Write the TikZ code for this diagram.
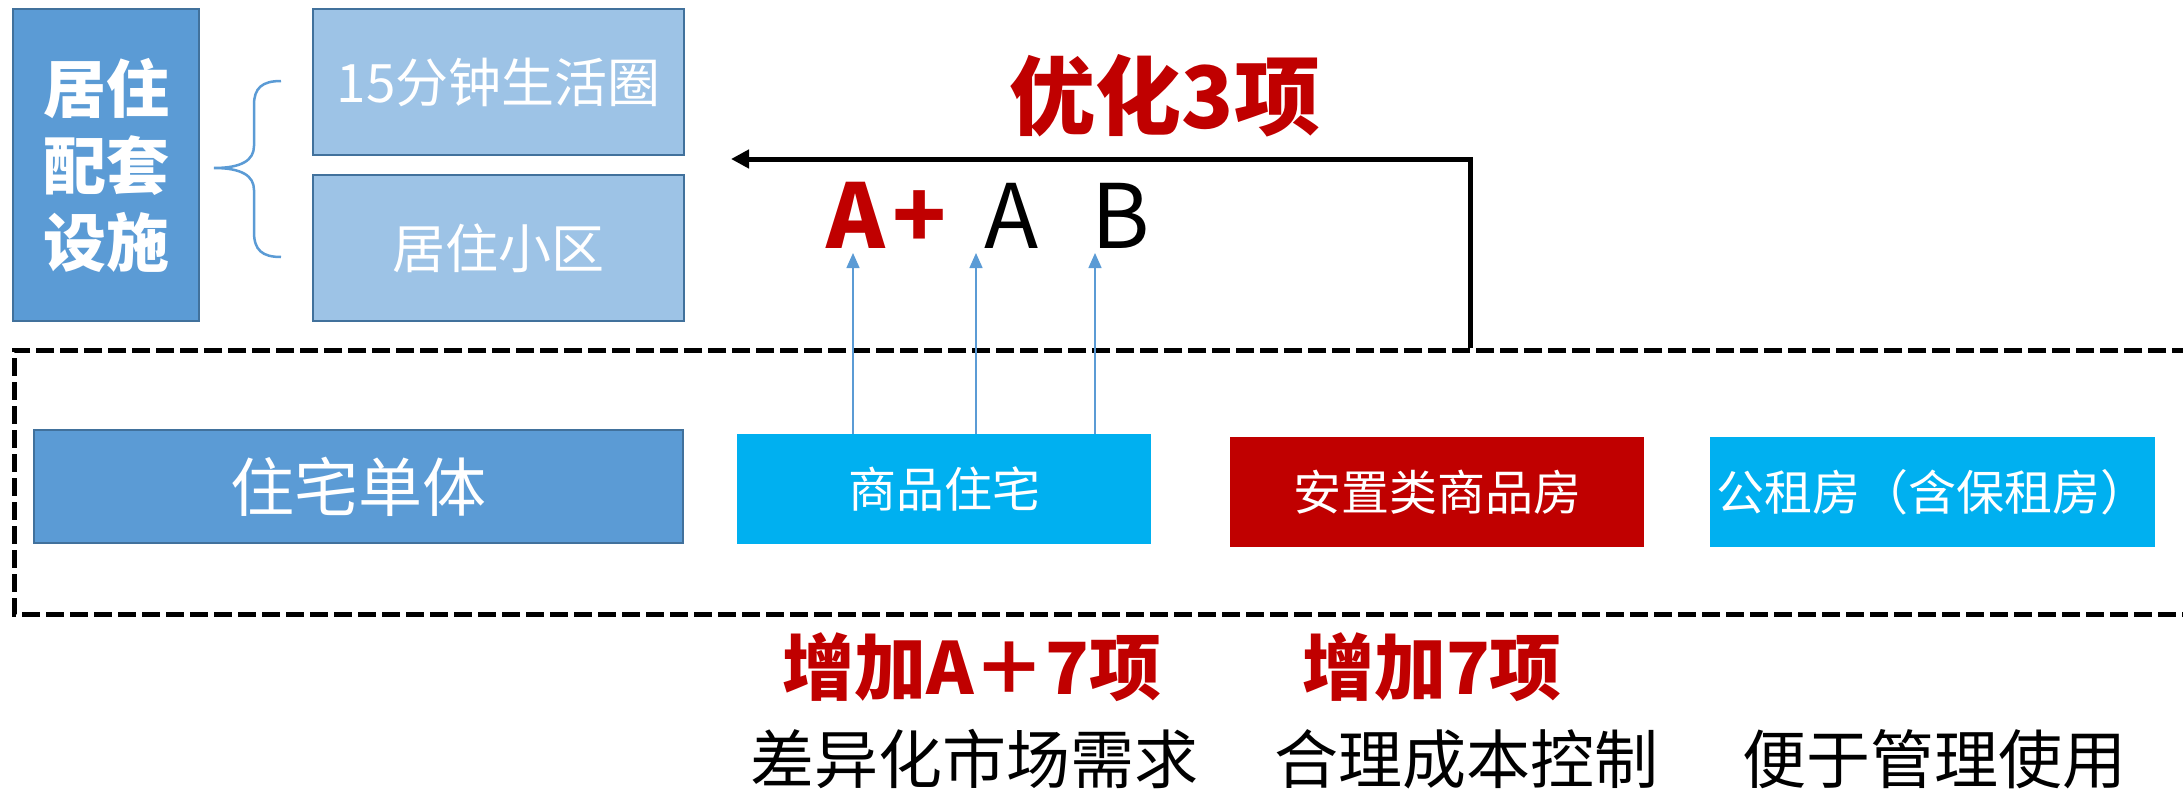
\documentclass[tikz,border=0pt]{standalone}
\usepackage{fontspec}
\setmainfont{Noto Sans CJK SC}
\usetikzlibrary{arrows.meta}
\definecolor{cred}{HTML}{C00000}
\definecolor{ccyan}{HTML}{00B0F0}
\definecolor{cmid}{HTML}{5B9BD5}
\definecolor{clight}{HTML}{9DC3E6}
\definecolor{cborder}{HTML}{41719C}
\newcommand\fsz[2]{\fontsize{#1pt}{#2pt}\selectfont}
\begin{document}
\begin{tikzpicture}[x=1pt,y=-1pt,
  box/.style={draw=cborder, line width=2pt, inner sep=0pt, text=white},
  flat/.style={inner sep=0pt, text=white},
  lbl/.style={inner sep=0pt},
  barrow/.style={draw=cmid, line width=1.5pt, -{Triangle[length=15pt,width=13pt]}},
  karrow/.style={draw=black, line width=5pt, -{Triangle[length=18pt,width=18pt]}},
  dbox/.style={draw=black, line width=5pt, dash pattern=on 18pt off 6pt},
  brace/.style={draw=cmid, line width=2.5pt}
]
\useasboundingbox (0,0) rectangle (2183,792);

% top-left group
\node[box, fill=cmid, minimum width=186pt, minimum height=312pt] (L) at (106,165) {};
\node[lbl, text=white, align=center, font=\bfseries\fsz{63}{77}] (Ltxt) at (L.center) {居住\\配套\\设施};
\node[box, fill=clight, minimum width=371pt, minimum height=146pt, font=\fsz{53}{60}] (R1) at (498.5,82) {15分钟生活圈};
\node[box, fill=clight, minimum width=371pt, minimum height=146pt, font=\fsz{53}{60}] (R2) at (498.5,248) {居住小区};
\draw[brace] (281,81) .. controls (262,81) and (254,88) .. (254,105) -- (254,146)
  .. controls (254,160) and (242,168) .. (214,168)
  .. controls (242,168) and (254,176) .. (254,190) -- (254,232)
  .. controls (254,250) and (262,257) .. (281,257);

% dashed frame
\coordinate (dtr) at (2190,350);
\coordinate (dtl) at (14,350);
\coordinate (dbl) at (14,614);
\coordinate (dbr) at (2190,614);
\draw[dbox] (dtr) -- (dtl) -- (dbl) -- (dbr);

% row boxes
\node[box, line width=2.5pt, fill=cmid, minimum width=649pt, minimum height=113pt, font=\fsz{64}{70}] (ZZ) at (358.5,486.5) {住宅单体};
\node[flat, fill=ccyan, minimum width=414pt, minimum height=110pt, font=\fsz{48}{55}] (SP) at (944,489) {商品住宅};
\node[flat, fill=cred, minimum width=414pt, minimum height=110pt, font=\fsz{48}{55}] (AZ) at (1437,492) {安置类商品房};
\node[flat, fill=ccyan, minimum width=445pt, minimum height=110pt, font=\fsz{48}{55}] (GZ) at (1932.5,492) {公租房（含保租房）};

% grades
\node[lbl, anchor=base west, text=cred, font=\bfseries\fsz{89}{95}] (Ap) at (826,248) {A\kern8pt+};
\node[lbl, anchor=base, font=\fsz{89}{95}] (A) at (1012,248) {A};
\node[lbl, anchor=base, font=\fsz{89}{95}] (B) at (1121,248) {B};

\coordinate (t1) at (853,253);
\coordinate (t2) at (976,253);
\coordinate (t3) at (1095,253);
\draw[barrow] (SP.north -| t1) -- (t1);
\draw[barrow] (SP.north -| t2) -- (t2);
\draw[barrow] (SP.north -| t3) -- (t3);

% black feedback arrow
\coordinate (kv0) at (1470,348);
\coordinate (kv1) at (1470,159);
\coordinate (ktip) at (731,159);
\draw[karrow] (kv0) -- (kv1) -- (ktip);
\node[lbl, text=cred, font=\bfseries\fsz{86}{90}] (opt) at (1165,96) {优化3项};

% bottom labels
\node[lbl, text=cred, font=\bfseries\fsz{72}{80}] (inc1) at (972,667) {增加A＋7项};
\node[lbl, text=cred, font=\bfseries\fsz{72}{80}] (inc2) at (1432,667) {增加7项};
\node[lbl, font=\fsz{64}{70}] (d1) at (974,759) {差异化市场需求};
\node[lbl, font=\fsz{64}{70}] (d2) at (1466,759) {合理成本控制};
\node[lbl, font=\fsz{64}{70}] (d3) at (1934,759) {便于管理使用};
\end{tikzpicture}
\end{document}
